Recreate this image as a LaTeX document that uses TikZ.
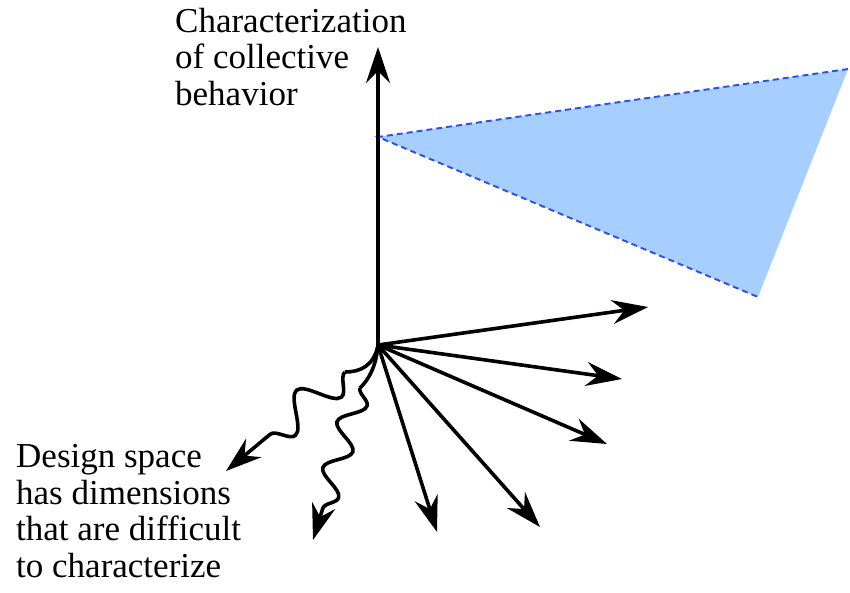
\documentclass[tikz,border=0pt]{standalone}
\usepackage{fontspec}
\setmainfont{Liberation Serif}
\usetikzlibrary{arrows.meta,decorations.pathmorphing}
\definecolor{planefill}{HTML}{A6CEFF}
\definecolor{planeedge}{HTML}{2A4FF0}
\begin{document}
\begin{tikzpicture}[x=1pt,y=-1pt,
  axis/.style={line width=3.6pt,-{Stealth[length=36pt,width=24pt,inset=12pt]}},
  wavy/.style={axis, decorate},
  lbl/.style={font=\fontsize{35}{36.5}\selectfont, align=left, inner sep=0pt, anchor=base west}]
\useasboundingbox (0,0) rectangle (850,592);
% plane
\coordinate (A) at (378,137);
\coordinate (B) at (848,69);
\coordinate (C) at (758,297);
\fill[planefill] (A) -- (B) -- (C) -- cycle;
\draw[planeedge, line width=1.9pt, dash pattern=on 6pt off 4pt] (B) -- (A) -- (C);
% origin and axes
\coordinate (O) at (378,345);
\coordinate (top) at (378,47);
\coordinate (e1) at (648,307);
\coordinate (e2) at (622,379);
\coordinate (e3) at (607,444);
\coordinate (e4) at (540,527);
\coordinate (e5) at (437,532);
\coordinate (w1) at (226,471);
\coordinate (w2) at (313,540);
\coordinate (s1) at (345,372);
\coordinate (s2) at (360,388);
\draw[axis] (O) -- (top);
\draw[axis] (O) -- (e1);
\draw[axis] (O) -- (e2);
\draw[axis] (O) -- (e3);
\draw[axis] (O) -- (e4);
\draw[axis] (O) -- (e5);
% wavy directions
\draw[line width=3.6pt] (O) .. controls (374,366) and (360,372) .. (s1);
\draw[wavy, decoration={snake,amplitude=17pt,segment length=60pt,post length=32pt}] (s1) -- (w1);
\draw[line width=3.6pt] (O) .. controls (376,368) and (368,380) .. (s2);
\draw[wavy, decoration={snake,amplitude=12pt,segment length=48pt,post length=30pt}] (s2) -- (w2);
% labels
\node[lbl] (ylab) at (175,105) {Characterization\\of collective\\behavior};
\node[lbl] (xlab) at (16,577) {Design space\\has dimensions\\that are difficult\\to characterize};
\end{tikzpicture}
\end{document}
